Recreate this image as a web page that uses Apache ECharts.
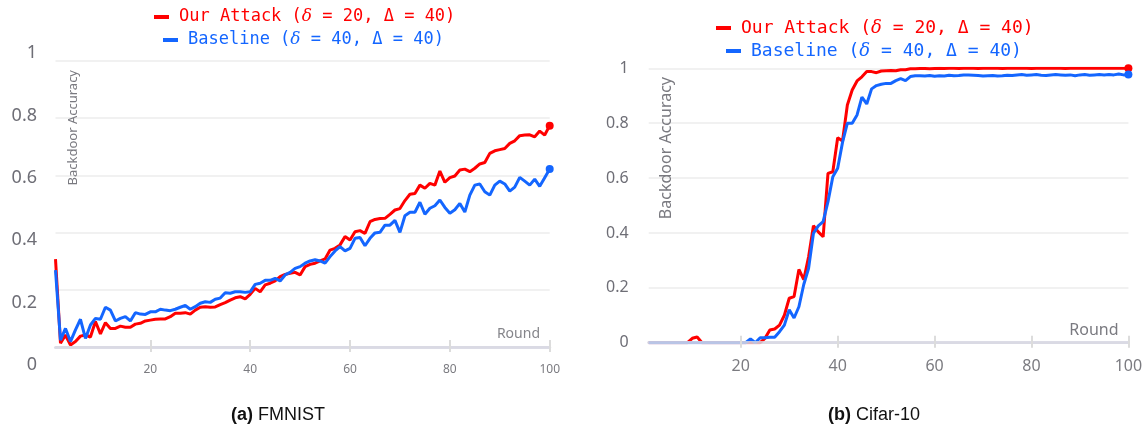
<!DOCTYPE html>
<html><head><meta charset="utf-8">
<script src="https://cdn.jsdelivr.net/npm/echarts@6/dist/echarts.min.js"></script>
<style>html,body{margin:0;padding:0;background:#fff}#c{width:1148px;height:432px}</style>
</head><body><div id="c"></div>
<script>
const NAME_A = 'Our Attack (δ = 20, Δ = 40)';
const NAME_B = 'Baseline (δ = 40, Δ = 40)';
const rounds = Array.from({length: 100}, (_, i) => i + 1);
const xTicks = [20, 40, 60, 80, 100];

const fmnistAttack = [
0.307,0.013,0.042,0.007,0.019,0.038,0.042,0.035,0.089,0.046,
0.085,0.065,0.065,0.073,0.069,0.069,0.080,0.083,0.091,0.094,
0.097,0.098,0.098,0.106,0.118,0.118,0.120,0.115,0.129,0.139,
0.141,0.139,0.140,0.148,0.155,0.164,0.172,0.176,0.168,0.184,
0.205,0.193,0.217,0.223,0.231,0.246,0.254,0.258,0.261,0.252,
0.281,0.289,0.293,0.301,0.308,0.339,0.345,0.357,0.386,0.374,
0.403,0.407,0.397,0.438,0.446,0.449,0.450,0.464,0.479,0.484,
0.512,0.534,0.537,0.566,0.555,0.572,0.566,0.615,0.576,0.592,
0.598,0.619,0.622,0.613,0.625,0.640,0.645,0.677,0.686,0.690,
0.694,0.712,0.721,0.739,0.741,0.742,0.735,0.755,0.741,0.774];
const fmnistBaseline = [
0.269,0.024,0.065,0.019,0.060,0.097,0.030,0.077,0.100,0.097,
0.139,0.129,0.091,0.100,0.106,0.091,0.120,0.115,0.114,0.123,
0.123,0.132,0.129,0.127,0.132,0.139,0.145,0.132,0.141,0.153,
0.158,0.156,0.167,0.171,0.190,0.188,0.193,0.193,0.191,0.193,
0.219,0.223,0.233,0.233,0.240,0.231,0.252,0.261,0.275,0.281,
0.293,0.301,0.305,0.301,0.293,0.316,0.336,0.351,0.336,0.345,
0.380,0.383,0.354,0.380,0.399,0.401,0.426,0.426,0.443,0.401,
0.459,0.471,0.471,0.506,0.464,0.485,0.494,0.514,0.488,0.468,
0.480,0.502,0.472,0.531,0.566,0.570,0.543,0.531,0.566,0.580,
0.570,0.545,0.559,0.593,0.580,0.566,0.587,0.562,0.592,0.622];
const cifarAttack = [
0,0,0,0,0,0,0,0,0,0.016,
0.021,0,0,0,0,0,0,0,0,0,
0,0,0,0,0.016,0.046,0.050,0.064,0.100,0.162,
0.168,0.267,0.230,0.313,0.426,0.404,0.386,0.617,0.623,0.747,
0.735,0.866,0.921,0.954,0.969,0.988,0.988,0.984,0.990,0.991,
0.992,0.991,0.995,0.995,0.998,0.998,0.999,0.999,0.998,0.999,
1.000,0.999,1.000,1.000,0.999,1.000,1.000,1.000,0.999,1.000,
1.000,1.000,1.000,0.999,1.000,1.000,1.000,1.000,1.000,0.999,
1.000,1.000,1.000,1.000,1.000,1.000,0.999,1.000,1.000,1.000,
1.000,1.000,1.000,1.000,1.000,1.000,1.000,1.000,1.000,1.000];
const cifarBaseline = [
0,0,0,0,0,0,0,0,0,0,
0,0,0,0,0,0,0,0,0,0,
0,0.014,0,0.018,0.018,0.020,0.020,0.040,0.064,0.120,
0.090,0.131,0.212,0.271,0.399,0.426,0.441,0.514,0.605,0.636,
0.730,0.800,0.800,0.830,0.895,0.870,0.925,0.937,0.942,0.945,
0.945,0.955,0.962,0.955,0.970,0.973,0.973,0.972,0.974,0.971,
0.973,0.972,0.975,0.973,0.974,0.976,0.976,0.975,0.974,0.972,
0.973,0.974,0.972,0.973,0.975,0.974,0.976,0.977,0.975,0.976,
0.977,0.975,0.974,0.976,0.977,0.976,0.975,0.976,0.973,0.976,
0.977,0.975,0.976,0.977,0.976,0.977,0.976,0.979,0.976,0.977];

const RED = '#ff0000', BLUE = '#1466ff';
const LABEL_FONT = 'Noto Sans';

function xMain(grid, fs, margin) {
  return {type: 'value', gridIndex: grid, min: 1, max: 100, position: 'bottom', z: 5,
    axisLine: {show: true, onZero: false, lineStyle: {color: 'rgba(214,214,226,0.85)', width: 3}},
    axisTick: {show: true, customValues: xTicks, length: 5, lineStyle: {color: '#dcdcdc', width: 2}},
    axisLabel: {customValues: xTicks, fontSize: fs, color: '#7b7b80', margin: margin, fontFamily: LABEL_FONT},
    splitLine: {show: false}};
}
function xInner(grid) {
  return {type: 'value', gridIndex: grid, min: 1, max: 100, position: 'bottom', z: 5,
    axisLine: {show: false, onZero: false}, axisLabel: {show: false},
    axisTick: {show: true, inside: true, customValues: xTicks, length: 7, lineStyle: {color: '#dcdcdc', width: 2}},
    splitLine: {show: false}};
}
function mkSeries(name, color, arr, xi, yi) {
  const n = arr.length;
  return {name, type: 'line', xAxisIndex: xi, yAxisIndex: yi,
    data: rounds.map((r, i) => [r, arr[i]]),
    symbol: 'circle', showSymbol: true, showAllSymbol: true,
    symbolSize: (v, p) => p.dataIndex === n - 1 ? 8 : 0,
    lineStyle: {color, width: 3}, itemStyle: {color},
    emphasis: {disabled: true}, animation: false, z: 2};
}
function mkLegend(name, color, left, top, fs) {
  return {data: [name], left, top, padding: 0, itemWidth: 15, itemHeight: 4, icon: 'rect',
    itemStyle: {color}, selectedMode: false,
    formatter: n => n.replace('δ', '{i|δ}'),
    textStyle: {color, fontSize: fs, fontFamily: 'DejaVu Sans Mono', lineHeight: 20, padding: [0, 0, 0, 5],
      rich: {i: {color, fontSize: fs, fontStyle: 'italic', fontFamily: 'DejaVu Serif', lineHeight: 20}}}};
}

const chart = echarts.init(document.getElementById('c'), null, {renderer: 'canvas'});
chart.setOption({
  animation: false,
  backgroundColor: '#ffffff',
  grid: [
    {left: 55.5, top: 61, width: 494.2, height: 286},
    {left: 648.7, top: 68.3, width: 479.7, height: 274.4},
    {left: 45, top: 53.3, width: 5, height: 311.7}
  ],
  xAxis: [
    xMain(0, 12, 17), xInner(0),
    xMain(1, 16, 16), xInner(1),
    {type: 'value', gridIndex: 2, show: false, min: 0, max: 1}
  ],
  yAxis: [
    {type: 'value', gridIndex: 0, min: 0, max: 1, interval: 0.2,
      axisLine: {show: false}, axisTick: {show: false}, axisLabel: {show: false},
      splitLine: {show: true, lineStyle: {color: '#f1f1f1', width: 2}}},
    {type: 'value', gridIndex: 1, min: 0, max: 1, interval: 0.2,
      axisLine: {show: false}, axisTick: {show: false},
      axisLabel: {fontSize: 16, color: '#6e6e76', margin: 20, fontFamily: LABEL_FONT},
      splitLine: {show: true, lineStyle: {color: '#f1f1f1', width: 2}}},
    {type: 'value', gridIndex: 2, min: 0, max: 1, interval: 0.2,
      axisLine: {show: false}, axisTick: {show: false},
      axisLabel: {fontSize: 18, color: '#6e6e76', margin: 8, fontFamily: LABEL_FONT},
      splitLine: {show: false}}
  ],
  legend: [
    mkLegend(NAME_A, RED, 154, 7, 17),
    mkLegend(NAME_B, BLUE, 163, 30, 17),
    mkLegend(NAME_A, RED, 716, 18, 18),
    mkLegend(NAME_B, BLUE, 726, 41, 18)
  ],
  series: [
    mkSeries(NAME_A, RED, fmnistAttack, 0, 0),
    mkSeries(NAME_B, BLUE, fmnistBaseline, 0, 0),
    mkSeries(NAME_A, RED, cifarAttack, 2, 1),
    mkSeries(NAME_B, BLUE, cifarBaseline, 2, 1)
  ],
  graphic: [
    {type: 'text', x: 73.5, y: 70, z: 20, rotation: Math.PI / 2,
      style: {text: 'Backdoor Accuracy', align: 'right', verticalAlign: 'middle', fill: '#7a7a80', fontSize: 13, fontFamily: LABEL_FONT}},
    {type: 'text', x: 666, y: 77, z: 20, rotation: Math.PI / 2,
      style: {text: 'Backdoor Accuracy', align: 'right', verticalAlign: 'middle', fill: '#7a7a80', fontSize: 16, fontFamily: LABEL_FONT}},
    {type: 'text', x: 540, y: 334, z: 20, style: {text: 'Round', align: 'right', verticalAlign: 'middle', fill: '#85858a', fontSize: 14, fontFamily: LABEL_FONT}},
    {type: 'text', x: 1118.5, y: 330, z: 20, style: {text: 'Round', align: 'right', verticalAlign: 'middle', fill: '#7a7a80', fontSize: 16, fontFamily: LABEL_FONT}},
    {type: 'text', x: 278, y: 415, style: {text: '{b|(a)} FMNIST', align: 'center', verticalAlign: 'middle', fill: '#111', fontSize: 18, fontFamily: 'Liberation Sans',
      rich: {b: {fontWeight: 'bold', fontSize: 18, fontFamily: 'Liberation Sans', fill: '#111'}}}},
    {type: 'text', x: 874, y: 415, style: {text: '{b|(b)} Cifar-10', align: 'center', verticalAlign: 'middle', fill: '#111', fontSize: 18, fontFamily: 'Liberation Sans',
      rich: {b: {fontWeight: 'bold', fontSize: 18, fontFamily: 'Liberation Sans', fill: '#111'}}}}
  ]
});
</script>
</body></html>
